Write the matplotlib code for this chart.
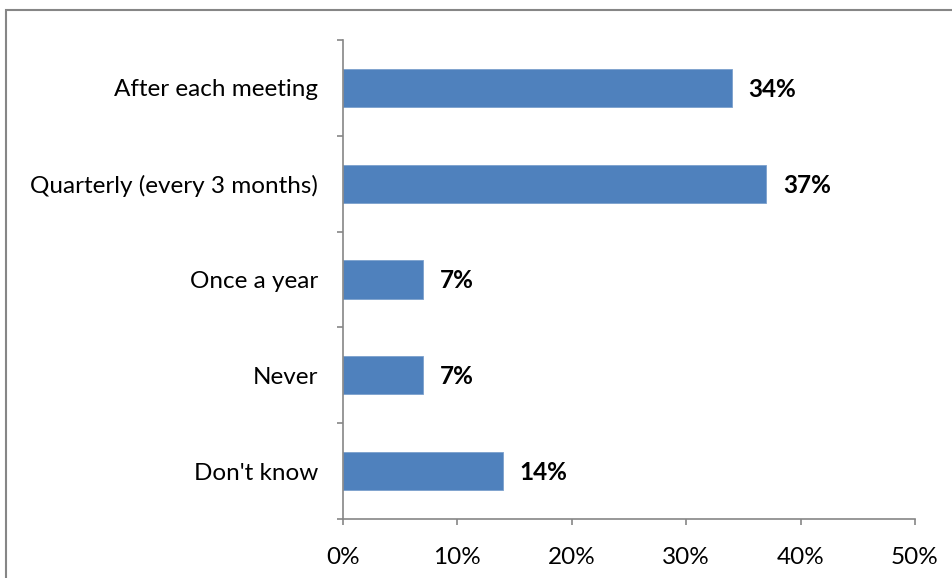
import numpy as np
import matplotlib
matplotlib.use("Agg")
import matplotlib.pyplot as plt
import matplotlib.ticker as mticker
from matplotlib.patches import Rectangle

# ── Data ─────────────────────────────────────────────────────────────────────
categories = ["After each meeting", "Quarterly (every 3 months)", "Once a year",
              "Never", "Don't know"]
values = [34, 37, 7, 7, 14]
x_ticks = [0, 10, 20, 30, 40, 50]

BAR = "#4F81BD"
AXIS = "#868686"
FS = 17.5

plt.rcParams["font.family"] = ["Lato", "DejaVu Sans"]

fig = plt.figure(figsize=(9.53, 5.78), dpi=100)
ax = fig.add_axes([343 / 953, 1 - 519 / 578, (915 - 343) / 953, (519 - 40) / 578])

# outer chart border (cut off at right and bottom in the original)
fig.patches.append(Rectangle((6 / 953, -0.1), 1.2, 1 - 10 / 578 + 0.1,
                             transform=fig.transFigure, fill=False,
                             edgecolor=AXIS, lw=1.5))

y = np.arange(len(categories))
ax.barh(y, values, height=0.4, color=BAR, edgecolor="#7BA0CD", lw=0.6, zorder=2)
for yi, v in zip(y, values):
    ax.annotate(f"{v}%", xy=(v, yi), xytext=(12, -1), textcoords="offset points",
                va="center", ha="left", fontsize=FS, fontweight="bold", color="black")

ax.set_xlim(0, 50)
ax.set_ylim(len(categories) - 0.5, -0.5)
ax.set_xticks(x_ticks)
ax.xaxis.set_major_formatter(mticker.FuncFormatter(lambda v, p: f"{v:.0f}%"))
ax.set_yticks(y)
ax.set_yticklabels(categories)
ax.set_yticks(np.arange(-0.5, len(categories), 1), minor=True)

for s in ["top", "right"]:
    ax.spines[s].set_visible(False)
for s in ["left", "bottom"]:
    ax.spines[s].set_color(AXIS)
    ax.spines[s].set_linewidth(1.2)

ax.tick_params(axis="y", which="major", length=0, pad=18, labelsize=FS)
ax.tick_params(axis="y", which="minor", length=4.5, width=1.2, color=AXIS)
ax.tick_params(axis="x", length=4.5, width=1.2, color=AXIS, pad=16, labelsize=FS)

fig.savefig("out.png", dpi=100)
